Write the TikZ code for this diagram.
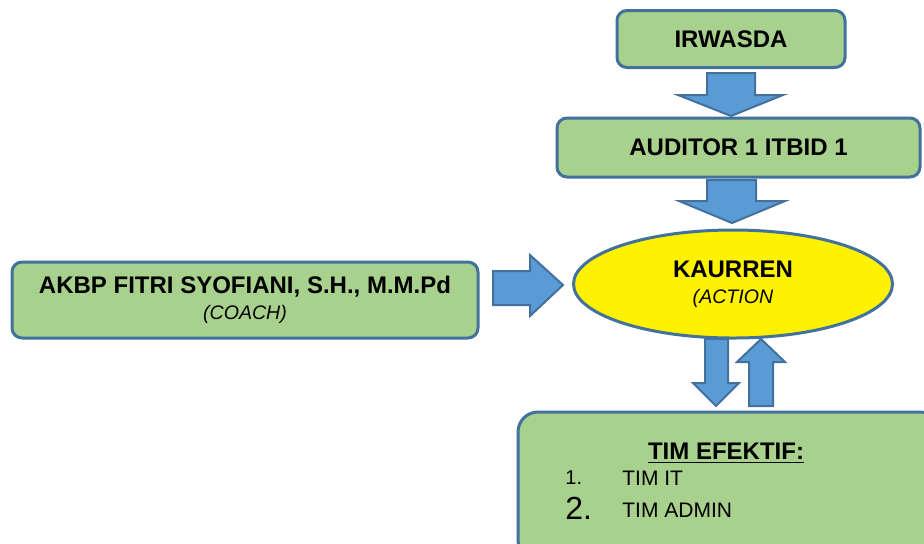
\documentclass[tikz,border=0pt]{standalone}
\usepackage{fontspec}
\setmainfont{Liberation Sans}
\usepackage{tikz}
\usetikzlibrary{shapes.geometric}

\definecolor{boxgreen}{HTML}{A9D18E}
\definecolor{boxline}{HTML}{41719C}
\definecolor{arrowblue}{HTML}{5B9BD5}

\tikzset{
    greenbox/.style={draw=boxline, fill=boxgreen, line width=1.5pt, rounded corners=5pt, align=center},
    blockarrow/.style={draw=boxline, fill=arrowblue, line width=1pt, line join=miter},
    boldtext/.style={font=\fontsize{12}{14}\selectfont\bfseries},
    listtext/.style={inner sep=0pt, anchor=west}
}

\begin{document}
\begin{tikzpicture}[x=0.5pt, y=-0.5pt]
    \clip (0,0) rectangle (924,543);

    % Boxes
    \node[greenbox, minimum width=114pt, minimum height=28.5pt, boldtext] (irwasda) at (731,39) {IRWASDA};
    \node[greenbox, minimum width=181.5pt, minimum height=29.5pt, boldtext] (auditor) at (738.5,147.5) {AUDITOR 1 ITBID 1};
    \node[greenbox, minimum width=233pt, minimum height=38pt] (coach) at (245,300)
        {\fontsize{12}{14}\selectfont\bfseries AKBP FITRI SYOFIANI, S.H., M.M.Pd\\[1pt]
         \fontsize{9.8}{12}\selectfont\itshape (COACH)};
    \node[ellipse, draw=boxline, fill=yellow, line width=1.5pt, minimum width=159.5pt, minimum height=54pt, align=center] (kaurren) at (733,284)
        {\fontsize{12}{14}\selectfont\bfseries KAURREN\\[1pt]
         \fontsize{9.8}{12}\selectfont\itshape (ACTION};
    \node[greenbox, rounded corners=10pt, minimum width=211pt, minimum height=74pt] (tim) at (729,486) {};

    % Team list
    \node[boldtext, inner sep=0pt] (timtitle) at (726,453) {\underline{TIM EFEKTIF:}};
    \node[listtext, font=\fontsize{10}{12}\selectfont] (num1) at (565,478) {1.};
    \node[listtext, font=\fontsize{10.5}{12}\selectfont] (timit) at (622,478) {TIM IT};
    \node[listtext, font=\fontsize{16}{18}\selectfont] (num2) at (565,508) {2.};
    \node[listtext, font=\fontsize{10.5}{12}\selectfont] (timadmin) at (622,510) {TIM ADMIN};

    % Block arrows
    \draw[blockarrow] (707,73) -- (755,73) -- (755,95) -- (783,95) -- (731,116) -- (678,95) -- (707,95) -- cycle;
    \draw[blockarrow] (707,180) -- (756,180) -- (756,201) -- (785,201) -- (732,223) -- (679,201) -- (707,201) -- cycle;
    \draw[blockarrow] (493,271) -- (530,271) -- (530,255) -- (563,285) -- (530,316) -- (530,305) -- (493,305) -- cycle;
    \draw[blockarrow] (705,339) -- (728,339) -- (728,383) -- (739,383) -- (716,406) -- (693,383) -- (705,383) -- cycle;
    \draw[blockarrow] (749,406) -- (773,406) -- (773,362) -- (785,362) -- (761,339) -- (737,362) -- (749,362) -- cycle;
\end{tikzpicture}
\end{document}
